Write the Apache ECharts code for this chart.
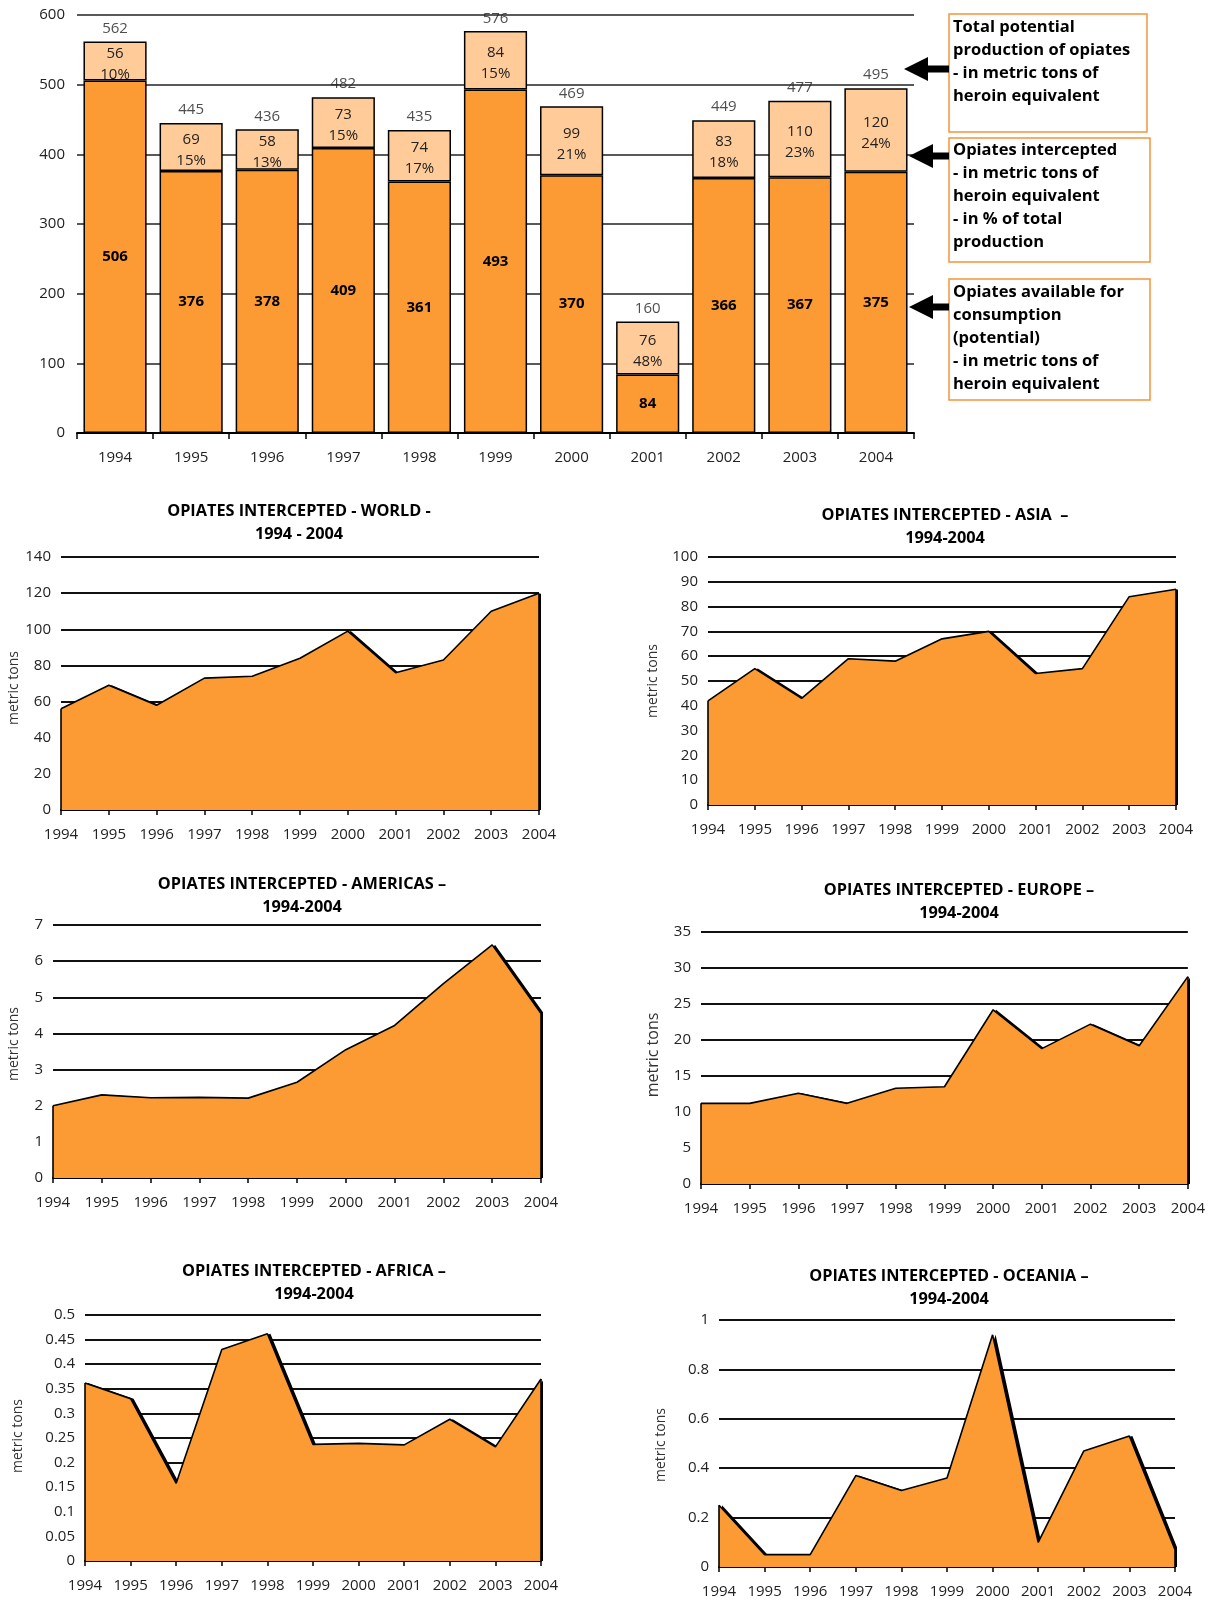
<!DOCTYPE html>
<html><head><meta charset="utf-8">
<script src="https://cdn.jsdelivr.net/npm/echarts@6/dist/echarts.min.js"></script>
<style>html,body{margin:0;padding:0;background:#fff}#c{width:1208px;height:1600px}</style>
</head><body><div id="c"></div>
<script>
// ---------------- DATA ----------------
const years = ['1994','1995','1996','1997','1998','1999','2000','2001','2002','2003','2004'];
const availableTons   = [506,376,378,409,361,493,370,84,366,367,375];
const interceptedTons = [56,69,58,73,74,84,99,76,83,110,120];
const totalProduction = [562,445,436,482,435,576,469,160,449,477,495];
const interceptedPct  = [10,15,13,15,17,15,21,48,18,23,24];

const worldTons    = [56,69,58,73,74,84,99,76,83,110,120];
const asiaTons     = [42,55,43,59,58,67,70,53,55,84,87];
const americasTons = [2.0,2.3,2.22,2.23,2.21,2.65,3.55,4.22,5.38,6.45,4.55];
const europeTons   = [11.2,11.2,12.6,11.2,13.3,13.5,24.2,18.8,22.2,19.2,28.8];
const africaTons   = [0.362,0.33,0.158,0.43,0.462,0.237,0.239,0.236,0.288,0.232,0.37];
const oceaniaTons  = [0.25,0.05,0.05,0.37,0.31,0.36,0.94,0.10,0.47,0.53,0.07];

const legendTexts = [
  ['Total potential','production of opiates','- in metric tons of','heroin equivalent'],
  ['Opiates intercepted','- in metric tons of','heroin equivalent','- in % of total','production'],
  ['Opiates available for','consumption','(potential)','- in metric tons of','heroin equivalent']
];

// ---------------- STYLE / LAYOUT ----------------
const DARK = '#FC9A33', LIGHT = '#FFCC99', TXT = '#222';
const FONT = '"Open Sans", Lato, sans-serif';
const FS = 15;

const panels = [
  {name:'WORLD',    title:['OPIATES INTERCEPTED - WORLD -','1994 - 2004'], data:worldTons,    max:140, interval:20,  grid:{left:61, top:557, width:478, height:253}, tx:299, ty:511, nx:14,  ny:688, nfs:14},
  {name:'ASIA',     title:['OPIATES INTERCEPTED - ASIA  \u2013','1994-2004'], data:asiaTons,  max:100, interval:10,  grid:{left:708,top:557, width:468, height:248}, tx:945, ty:515, nx:653, ny:681, nfs:14},
  {name:'AMERICAS', title:['OPIATES INTERCEPTED - AMERICAS \u2013','1994-2004'], data:americasTons, max:7, interval:1, grid:{left:53, top:925, width:488, height:253}, tx:302, ty:884, nx:14, ny:1044, nfs:14},
  {name:'EUROPE',   title:['OPIATES INTERCEPTED - EUROPE \u2013','1994-2004'], data:europeTons, max:35, interval:5,  grid:{left:701,top:932, width:487, height:252}, tx:959, ty:890, nx:653, ny:1055, nfs:16},
  {name:'AFRICA',   title:['OPIATES INTERCEPTED - AFRICA \u2013','1994-2004'], data:africaTons, max:0.5, interval:0.05, grid:{left:85, top:1315, width:456, height:246}, tx:314, ty:1271, nx:18, ny:1436, nfs:14},
  {name:'OCEANIA',  title:['OPIATES INTERCEPTED - OCEANIA \u2013','1994-2004'], data:oceaniaTons, max:1, interval:0.2, grid:{left:719, top:1320, width:456, height:247}, tx:949, ty:1276, nx:661, ny:1445, nfs:14}
];

const grids = [{left:77, top:15, width:837, height:418}];
const xAxes = [{
  type:'category', data:years, gridIndex:0, boundaryGap:true,
  axisLine:{lineStyle:{color:'#000', width:2}},
  axisTick:{show:true, length:6, lineStyle:{color:'#000', width:1.5}},
  axisLabel:{color:TXT, fontSize:FS, fontFamily:FONT, margin:17}
}];
const yAxes = [{
  type:'value', gridIndex:0, min:0, max:600, interval:100,
  axisLine:{show:false}, axisTick:{show:false},
  axisLabel:{color:TXT, fontSize:FS, fontFamily:FONT, margin:12},
  splitLine:{lineStyle:{color:'#222', width:1.5}}
}];
const series = [
  {type:'bar', name:'available', stack:'p', xAxisIndex:0, yAxisIndex:0, data:availableTons, barWidth:'83%',
   itemStyle:{color:DARK, borderColor:'#000', borderWidth:1.5},
   label:{show:true, position:'inside', color:'#000', fontWeight:'bold', fontSize:FS, fontFamily:FONT}},
  {type:'bar', name:'intercepted', stack:'p', xAxisIndex:0, yAxisIndex:0, data:interceptedTons, barWidth:'83%',
   itemStyle:{color:LIGHT, borderColor:'#000', borderWidth:1.5},
   label:{show:true, position:'inside', offset:[0,3], color:'#222', fontSize:FS, fontFamily:FONT, lineHeight:21,
     formatter:p => interceptedTons[p.dataIndex] + '\n' + interceptedPct[p.dataIndex] + '%'}},
  {type:'scatter', name:'total', xAxisIndex:0, yAxisIndex:0, data:totalProduction, symbolSize:1,
   itemStyle:{color:'rgba(0,0,0,0)'}, silent:true,
   label:{show:true, position:'top', distance:5, color:'#222', fontSize:FS, fontFamily:FONT}}
];

const graphics = [];

panels.forEach((p, i) => {
  const gi = i + 1;
  grids.push(p.grid);
  xAxes.push({
    type:'category', data:years, gridIndex:gi, boundaryGap:false,
    axisLine:{lineStyle:{color:'#000', width:2}},
    axisTick:{show:true, length:5, lineStyle:{color:'#000', width:1.5}},
    axisLabel:{color:TXT, fontSize:FS, fontFamily:FONT, margin:17, interval:0},
    splitLine:{show:false}
  });
  yAxes.push({
    type:'value', gridIndex:gi, min:0, max:p.max, interval:p.interval,
    axisLine:{show:false}, axisTick:{show:false},
    axisLabel:{color:TXT, fontSize:FS, fontFamily:FONT, margin:10,
      formatter: v => String(Math.round(v*1000)/1000)},
    splitLine:{lineStyle:{color:'#111', width:2}}
  });
  series.push({
    type:'line', name:p.name, xAxisIndex:gi, yAxisIndex:gi, data:p.data,
    symbol:'none', z:3,
    lineStyle:{color:'#000', width:1.6},
    areaStyle:{color:DARK, opacity:1, shadowColor:'#000', shadowOffsetX:3, shadowOffsetY:0, shadowBlur:0},
    markLine:{silent:true, symbol:'none', label:{show:false},
      lineStyle:{color:'#000', width:1.6, type:'solid'},
      data:[[{coord:[years[0],0]},{coord:[years[0],p.data[0]]}],
            [{coord:[years[years.length-1],0]},{coord:[years[years.length-1],p.data[p.data.length-1]]}]]}
  });
  graphics.push({type:'text', x:p.tx, y:p.ty, z:10, style:{text:p.title[0], fill:'#000', font:'bold 16.3px ' + FONT, textAlign:'center', textVerticalAlign:'middle'}});
  graphics.push({type:'text', x:p.tx, y:p.ty+23, z:10, style:{text:p.title[1], fill:'#000', font:'bold 16.3px ' + FONT, textAlign:'center', textVerticalAlign:'middle'}});
  graphics.push({type:'text', x:p.nx, y:p.ny, rotation:Math.PI/2, z:10, style:{text:'metric tons', fill:'#333', font:p.nfs + 'px ' + FONT, textAlign:'center', textVerticalAlign:'middle'}});
});

// legend boxes
const boxes = [
  {x:949, y:14,  w:198, h:118, ty:27},
  {x:949, y:138, w:201, h:124, ty:150},
  {x:949, y:279, w:201, h:121, ty:292}
];
boxes.forEach((b, i) => {
  graphics.push({type:'rect', z:5, shape:{x:b.x, y:b.y, width:b.w, height:b.h}, style:{fill:'#fff', stroke:'#F7933A', lineWidth:1.5}});
  legendTexts[i].forEach((t, j) => {
    graphics.push({type:'text', z:6, x:b.x+4, y:b.ty + j*23, style:{text:t, fill:'#000', font:'bold 16.5px ' + FONT, textAlign:'left', textVerticalAlign:'middle'}});
  });
});
// arrows
[{tx:904, ty:69}, {tx:909, ty:156}, {tx:909, ty:307}].forEach(a => {
  const hw = 24, hh = 12, sh = 3.5, end = 949;
  graphics.push({type:'polygon', z:6, shape:{points:[
    [a.tx, a.ty], [a.tx+hw, a.ty-hh], [a.tx+hw, a.ty-sh], [end, a.ty-sh],
    [end, a.ty+sh], [a.tx+hw, a.ty+sh], [a.tx+hw, a.ty+hh]]}, style:{fill:'#000'}});
});

const chart = echarts.init(document.getElementById('c'), null, {renderer:'canvas'});
chart.setOption({
  animation:false,
  backgroundColor:'#fff',
  textStyle:{fontFamily:FONT},
  grid:grids, xAxis:xAxes, yAxis:yAxes, series:series, graphic:graphics
});
</script>
</body></html>
